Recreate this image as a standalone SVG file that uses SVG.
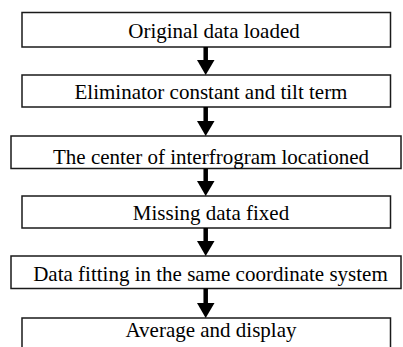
<svg xmlns="http://www.w3.org/2000/svg" width="403" height="347" viewBox="0 0 403 347">
<style>
.box{fill:#fff;stroke:#1a1a1a;stroke-width:1.5}
text{font-family:'Liberation Serif','Times New Roman',Times,serif;font-size:21px;fill:#000;text-anchor:middle}
.sh{stroke:#000;stroke-width:4.5;fill:none}
.hd{fill:#000;stroke:none}
</style>
<rect width="403" height="347" fill="#fff"/>
<g id="n1"><rect class="box" x="22" y="12.5" width="368.5" height="34.5"/><text x="214" y="38" font-family="Liberation Serif, serif">Original data loaded</text></g>
<g id="n2"><rect class="box" x="22" y="75" width="368.5" height="32"/><text x="211" y="99" font-family="Liberation Serif, serif">Eliminator constant and tilt term</text></g>
<g id="n3"><rect class="box" x="11" y="136" width="390" height="32.5"/><text x="211" y="164" font-family="Liberation Serif, serif">The center of interfrogram locationed</text></g>
<g id="n4"><rect class="box" x="22" y="196" width="368.5" height="32"/><text x="211" y="220" font-family="Liberation Serif, serif">Missing data fixed</text></g>
<g id="n5"><rect class="box" x="11" y="256" width="390" height="32.5"/><text x="210.5" y="281" font-family="Liberation Serif, serif">Data fitting in the same coordinate system</text></g>
<g id="n6"><rect class="box" x="22" y="318" width="368.5" height="40"/><text x="211" y="337" font-family="Liberation Serif, serif">Average and display</text></g>
<g id="connectors">
<line class="sh" x1="205.7" y1="47" x2="205.7" y2="62"/><polygon class="hd" points="197,60 214.5,60 205.7,75"/>
<line class="sh" x1="205.7" y1="107" x2="205.7" y2="123"/><polygon class="hd" points="197,121 214.5,121 205.7,136"/>
<line class="sh" x1="205.7" y1="168.5" x2="205.7" y2="183"/><polygon class="hd" points="197,181 214.5,181 205.7,196"/>
<line class="sh" x1="205.7" y1="228" x2="205.7" y2="243"/><polygon class="hd" points="197,241 214.5,241 205.7,256"/>
<line class="sh" x1="205.7" y1="288.5" x2="205.7" y2="305"/><polygon class="hd" points="197,303 214.5,303 205.7,318"/>
</g>
</svg>
